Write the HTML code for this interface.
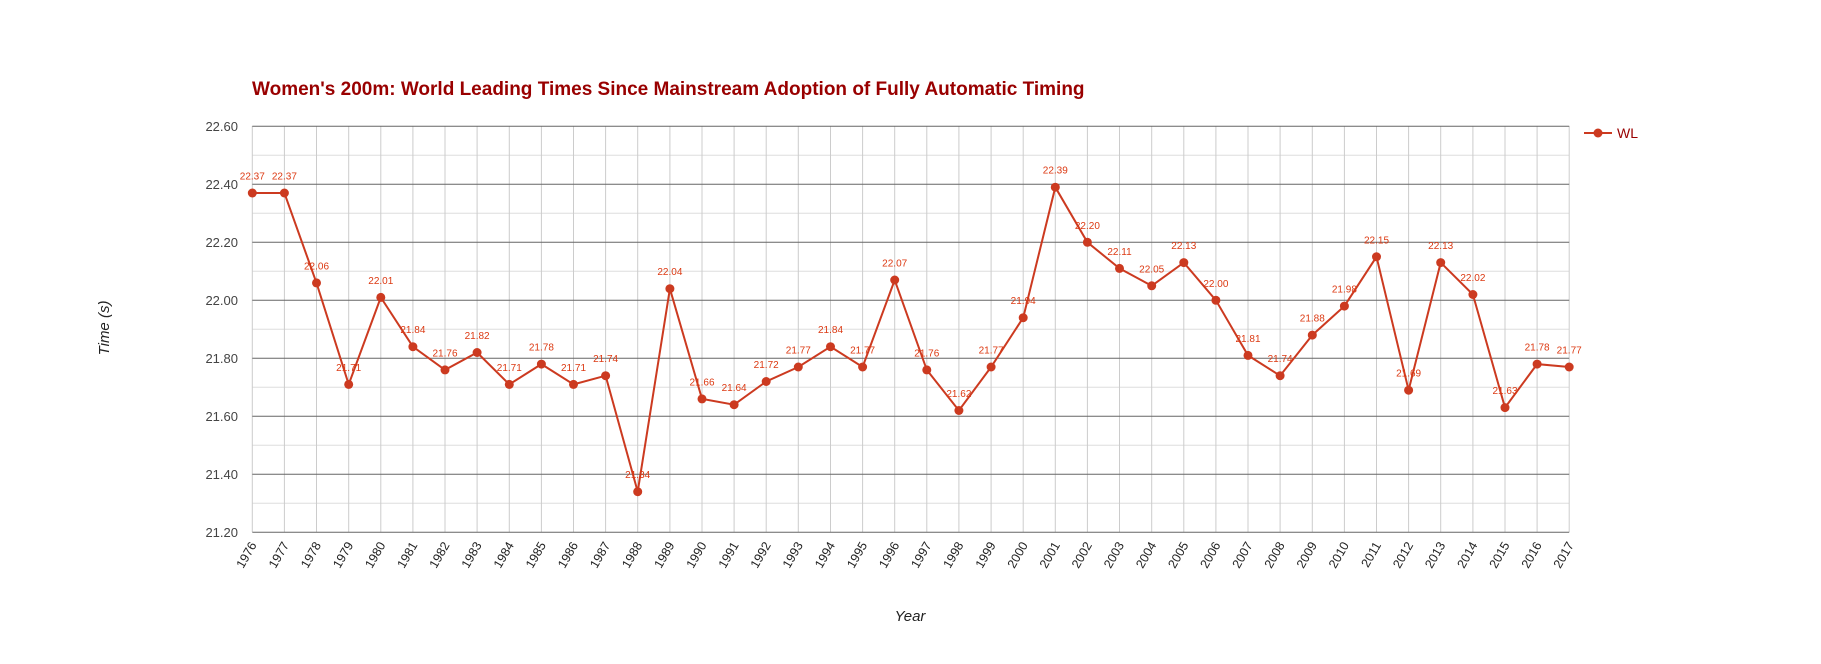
<!DOCTYPE html>
<html><head><meta charset="utf-8"><style>
body{margin:0;background:#fff;}
svg text{font-family:"Liberation Sans",Arial,sans-serif;}
.yl{font-size:13px;fill:#444;text-anchor:end;}
.xl{font-size:12.5px;fill:#222;text-anchor:end;}
.dl{font-size:10px;fill:#dc3912;text-anchor:middle;}
.mn{stroke:#ddd;stroke-width:1;}
.vg{stroke:#ccc;stroke-width:1;}
.mj{stroke:#666;stroke-width:1;}
</style></head><body>
<svg width="1821" height="659" xmlns="http://www.w3.org/2000/svg">
<rect width="1821" height="659" fill="#fff"/>
<text x="252" y="95" font-size="19" font-weight="bold" fill="#990000">Women's 200m: World Leading Times Since Mainstream Adoption of Fully Automatic Timing</text>
<g class="mn">
<line x1="252.3" x2="1569.2" y1="155.3" y2="155.3"/><line x1="252.3" x2="1569.2" y1="213.3" y2="213.3"/><line x1="252.3" x2="1569.2" y1="271.3" y2="271.3"/><line x1="252.3" x2="1569.2" y1="329.3" y2="329.3"/><line x1="252.3" x2="1569.2" y1="387.3" y2="387.3"/><line x1="252.3" x2="1569.2" y1="445.3" y2="445.3"/><line x1="252.3" x2="1569.2" y1="503.3" y2="503.3"/>
</g>
<g class="vg">
<line x1="252.3" x2="252.3" y1="126" y2="532"/><line x1="284.4" x2="284.4" y1="126" y2="532"/><line x1="316.5" x2="316.5" y1="126" y2="532"/><line x1="348.7" x2="348.7" y1="126" y2="532"/><line x1="380.8" x2="380.8" y1="126" y2="532"/><line x1="412.9" x2="412.9" y1="126" y2="532"/><line x1="445.0" x2="445.0" y1="126" y2="532"/><line x1="477.1" x2="477.1" y1="126" y2="532"/><line x1="509.3" x2="509.3" y1="126" y2="532"/><line x1="541.4" x2="541.4" y1="126" y2="532"/><line x1="573.5" x2="573.5" y1="126" y2="532"/><line x1="605.6" x2="605.6" y1="126" y2="532"/><line x1="637.7" x2="637.7" y1="126" y2="532"/><line x1="669.9" x2="669.9" y1="126" y2="532"/><line x1="702.0" x2="702.0" y1="126" y2="532"/><line x1="734.1" x2="734.1" y1="126" y2="532"/><line x1="766.2" x2="766.2" y1="126" y2="532"/><line x1="798.3" x2="798.3" y1="126" y2="532"/><line x1="830.5" x2="830.5" y1="126" y2="532"/><line x1="862.6" x2="862.6" y1="126" y2="532"/><line x1="894.7" x2="894.7" y1="126" y2="532"/><line x1="926.8" x2="926.8" y1="126" y2="532"/><line x1="958.9" x2="958.9" y1="126" y2="532"/><line x1="991.1" x2="991.1" y1="126" y2="532"/><line x1="1023.2" x2="1023.2" y1="126" y2="532"/><line x1="1055.3" x2="1055.3" y1="126" y2="532"/><line x1="1087.4" x2="1087.4" y1="126" y2="532"/><line x1="1119.5" x2="1119.5" y1="126" y2="532"/><line x1="1151.7" x2="1151.7" y1="126" y2="532"/><line x1="1183.8" x2="1183.8" y1="126" y2="532"/><line x1="1215.9" x2="1215.9" y1="126" y2="532"/><line x1="1248.0" x2="1248.0" y1="126" y2="532"/><line x1="1280.1" x2="1280.1" y1="126" y2="532"/><line x1="1312.3" x2="1312.3" y1="126" y2="532"/><line x1="1344.4" x2="1344.4" y1="126" y2="532"/><line x1="1376.5" x2="1376.5" y1="126" y2="532"/><line x1="1408.6" x2="1408.6" y1="126" y2="532"/><line x1="1440.7" x2="1440.7" y1="126" y2="532"/><line x1="1472.9" x2="1472.9" y1="126" y2="532"/><line x1="1505.0" x2="1505.0" y1="126" y2="532"/><line x1="1537.1" x2="1537.1" y1="126" y2="532"/><line x1="1569.2" x2="1569.2" y1="126" y2="532"/>
</g>
<g class="mj">
<line x1="252.3" x2="1569.2" y1="126.3" y2="126.3"/><line x1="252.3" x2="1569.2" y1="184.3" y2="184.3"/><line x1="252.3" x2="1569.2" y1="242.3" y2="242.3"/><line x1="252.3" x2="1569.2" y1="300.3" y2="300.3"/><line x1="252.3" x2="1569.2" y1="358.3" y2="358.3"/><line x1="252.3" x2="1569.2" y1="416.3" y2="416.3"/><line x1="252.3" x2="1569.2" y1="474.3" y2="474.3"/><line x1="252.3" x2="1569.2" y1="532.3" y2="532.3"/>
</g>
<g class="yl">
<text x="238" y="131">22.60</text><text x="238" y="189">22.40</text><text x="238" y="247">22.20</text><text x="238" y="305">22.00</text><text x="238" y="363">21.80</text><text x="238" y="421">21.60</text><text x="238" y="479">21.40</text><text x="238" y="537">21.20</text>
</g>
<text transform="translate(109,328) rotate(-90)" font-size="15" font-style="italic" fill="#222" text-anchor="middle">Time (s)</text>
<text x="910" y="621" font-size="15" font-style="italic" fill="#222" text-anchor="middle">Year</text>
<g class="xl">
<text transform="translate(257,545) rotate(-60)">1976</text><text transform="translate(289.4,545) rotate(-60)">1977</text><text transform="translate(321.5,545) rotate(-60)">1978</text><text transform="translate(353.7,545) rotate(-60)">1979</text><text transform="translate(385.8,545) rotate(-60)">1980</text><text transform="translate(417.9,545) rotate(-60)">1981</text><text transform="translate(450,545) rotate(-60)">1982</text><text transform="translate(482.1,545) rotate(-60)">1983</text><text transform="translate(514.3,545) rotate(-60)">1984</text><text transform="translate(546.4,545) rotate(-60)">1985</text><text transform="translate(578.5,545) rotate(-60)">1986</text><text transform="translate(610.6,545) rotate(-60)">1987</text><text transform="translate(642.7,545) rotate(-60)">1988</text><text transform="translate(674.9,545) rotate(-60)">1989</text><text transform="translate(707,545) rotate(-60)">1990</text><text transform="translate(739.1,545) rotate(-60)">1991</text><text transform="translate(771.2,545) rotate(-60)">1992</text><text transform="translate(803.3,545) rotate(-60)">1993</text><text transform="translate(835.5,545) rotate(-60)">1994</text><text transform="translate(867.6,545) rotate(-60)">1995</text><text transform="translate(899.7,545) rotate(-60)">1996</text><text transform="translate(931.8,545) rotate(-60)">1997</text><text transform="translate(963.9,545) rotate(-60)">1998</text><text transform="translate(996.1,545) rotate(-60)">1999</text><text transform="translate(1028.2,545) rotate(-60)">2000</text><text transform="translate(1060.3,545) rotate(-60)">2001</text><text transform="translate(1092.4,545) rotate(-60)">2002</text><text transform="translate(1124.5,545) rotate(-60)">2003</text><text transform="translate(1156.7,545) rotate(-60)">2004</text><text transform="translate(1188.8,545) rotate(-60)">2005</text><text transform="translate(1220.9,545) rotate(-60)">2006</text><text transform="translate(1253,545) rotate(-60)">2007</text><text transform="translate(1285.1,545) rotate(-60)">2008</text><text transform="translate(1317.3,545) rotate(-60)">2009</text><text transform="translate(1349.4,545) rotate(-60)">2010</text><text transform="translate(1381.5,545) rotate(-60)">2011</text><text transform="translate(1413.6,545) rotate(-60)">2012</text><text transform="translate(1445.7,545) rotate(-60)">2013</text><text transform="translate(1477.9,545) rotate(-60)">2014</text><text transform="translate(1510,545) rotate(-60)">2015</text><text transform="translate(1542.1,545) rotate(-60)">2016</text><text transform="translate(1574.2,545) rotate(-60)">2017</text>
</g>
<polyline fill="none" stroke="#cc3a20" stroke-width="2" points="252.3,193.0 284.4,193.0 316.5,282.9 348.7,384.4 380.8,297.4 412.9,346.7 445.0,369.9 477.1,352.5 509.3,384.4 541.4,364.1 573.5,384.4 605.6,375.7 637.7,491.7 669.9,288.7 702.0,398.9 734.1,404.7 766.2,381.5 798.3,367.0 830.5,346.7 862.6,367.0 894.7,280.0 926.8,369.9 958.9,410.5 991.1,367.0 1023.2,317.7 1055.3,187.2 1087.4,242.3 1119.5,268.4 1151.7,285.8 1183.8,262.6 1215.9,300.3 1248.0,355.4 1280.1,375.7 1312.3,335.1 1344.4,306.1 1376.5,256.8 1408.6,390.2 1440.7,262.6 1472.9,294.5 1505.0,407.6 1537.1,364.1 1569.2,367.0"/>
<g fill="#cc3a20">
<circle cx="252.3" cy="193.0" r="4.5"/><circle cx="284.4" cy="193.0" r="4.5"/><circle cx="316.5" cy="282.9" r="4.5"/><circle cx="348.7" cy="384.4" r="4.5"/><circle cx="380.8" cy="297.4" r="4.5"/><circle cx="412.9" cy="346.7" r="4.5"/><circle cx="445.0" cy="369.9" r="4.5"/><circle cx="477.1" cy="352.5" r="4.5"/><circle cx="509.3" cy="384.4" r="4.5"/><circle cx="541.4" cy="364.1" r="4.5"/><circle cx="573.5" cy="384.4" r="4.5"/><circle cx="605.6" cy="375.7" r="4.5"/><circle cx="637.7" cy="491.7" r="4.5"/><circle cx="669.9" cy="288.7" r="4.5"/><circle cx="702.0" cy="398.9" r="4.5"/><circle cx="734.1" cy="404.7" r="4.5"/><circle cx="766.2" cy="381.5" r="4.5"/><circle cx="798.3" cy="367.0" r="4.5"/><circle cx="830.5" cy="346.7" r="4.5"/><circle cx="862.6" cy="367.0" r="4.5"/><circle cx="894.7" cy="280.0" r="4.5"/><circle cx="926.8" cy="369.9" r="4.5"/><circle cx="958.9" cy="410.5" r="4.5"/><circle cx="991.1" cy="367.0" r="4.5"/><circle cx="1023.2" cy="317.7" r="4.5"/><circle cx="1055.3" cy="187.2" r="4.5"/><circle cx="1087.4" cy="242.3" r="4.5"/><circle cx="1119.5" cy="268.4" r="4.5"/><circle cx="1151.7" cy="285.8" r="4.5"/><circle cx="1183.8" cy="262.6" r="4.5"/><circle cx="1215.9" cy="300.3" r="4.5"/><circle cx="1248.0" cy="355.4" r="4.5"/><circle cx="1280.1" cy="375.7" r="4.5"/><circle cx="1312.3" cy="335.1" r="4.5"/><circle cx="1344.4" cy="306.1" r="4.5"/><circle cx="1376.5" cy="256.8" r="4.5"/><circle cx="1408.6" cy="390.2" r="4.5"/><circle cx="1440.7" cy="262.6" r="4.5"/><circle cx="1472.9" cy="294.5" r="4.5"/><circle cx="1505.0" cy="407.6" r="4.5"/><circle cx="1537.1" cy="364.1" r="4.5"/><circle cx="1569.2" cy="367.0" r="4.5"/>
</g>
<g class="dl">
<text x="252.3" y="179.5">22.37</text><text x="284.4" y="179.5">22.37</text><text x="316.5" y="269.4">22.06</text><text x="348.7" y="370.9">21.71</text><text x="380.8" y="283.9">22.01</text><text x="412.9" y="333.2">21.84</text><text x="445.0" y="356.4">21.76</text><text x="477.1" y="339">21.82</text><text x="509.3" y="370.9">21.71</text><text x="541.4" y="350.6">21.78</text><text x="573.5" y="370.9">21.71</text><text x="605.6" y="362.2">21.74</text><text x="637.7" y="478.2">21.34</text><text x="669.9" y="275.2">22.04</text><text x="702.0" y="385.4">21.66</text><text x="734.1" y="391.2">21.64</text><text x="766.2" y="368">21.72</text><text x="798.3" y="353.5">21.77</text><text x="830.5" y="333.2">21.84</text><text x="862.6" y="353.5">21.77</text><text x="894.7" y="266.5">22.07</text><text x="926.8" y="356.4">21.76</text><text x="958.9" y="397">21.62</text><text x="991.1" y="353.5">21.77</text><text x="1023.2" y="304.2">21.94</text><text x="1055.3" y="173.7">22.39</text><text x="1087.4" y="228.8">22.20</text><text x="1119.5" y="254.9">22.11</text><text x="1151.7" y="272.3">22.05</text><text x="1183.8" y="249.1">22.13</text><text x="1215.9" y="286.8">22.00</text><text x="1248.0" y="341.9">21.81</text><text x="1280.1" y="362.2">21.74</text><text x="1312.3" y="321.6">21.88</text><text x="1344.4" y="292.6">21.98</text><text x="1376.5" y="243.3">22.15</text><text x="1408.6" y="376.7">21.69</text><text x="1440.7" y="249.1">22.13</text><text x="1472.9" y="281">22.02</text><text x="1505.0" y="394.1">21.63</text><text x="1537.1" y="350.6">21.78</text><text x="1569.2" y="353.5">21.77</text>
</g>
<line x1="1584" x2="1612" y1="133" y2="133" stroke="#cc3a20" stroke-width="2"/>
<circle cx="1598" cy="133" r="4.5" fill="#cc3a20"/>
<text x="1617" y="138" font-size="14" fill="#990000">WL</text>
</svg>
</body></html>
